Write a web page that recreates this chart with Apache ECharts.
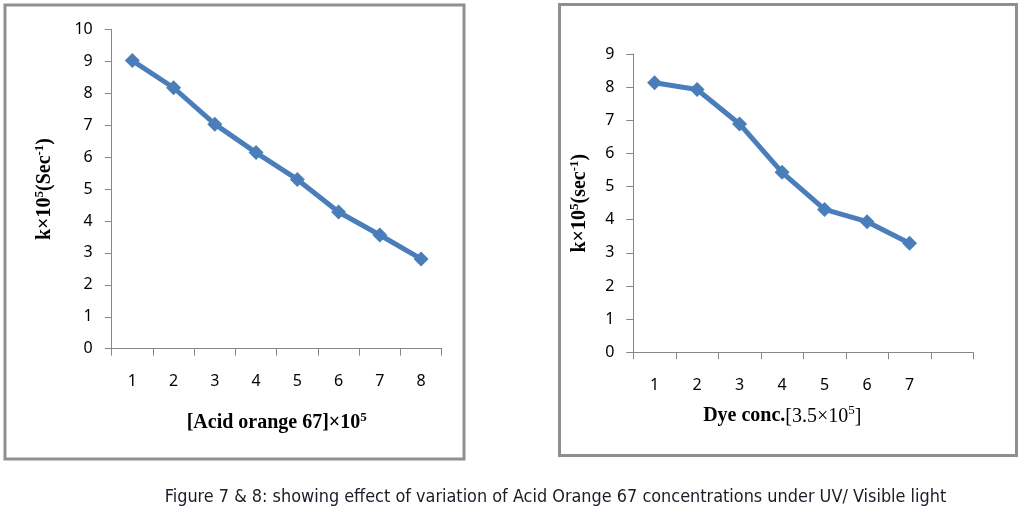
<!DOCTYPE html>
<html><head><meta charset="utf-8">
<script src="https://cdn.jsdelivr.net/npm/echarts@6/dist/echarts.min.js"></script>
<style>html,body{margin:0;padding:0;background:#fff}#c{width:1035px;height:514px}</style>
</head><body><div id="c"></div>
<script>
// Figure 7 (left)
const catsLeft = ['1','2','3','4','5','6','7','8'];
const kLeft = [9.02, 8.17, 7.03, 6.14, 5.30, 4.28, 3.56, 2.81];
// Figure 8 (right)
const catsRight = ['1','2','3','4','5','6','7',''];
const kRight = [8.13, 7.93, 6.89, 5.43, 4.31, 3.94, 3.29];
const yTicksLeft = {min: 0, max: 10, interval: 1};
const yTicksRight = {min: 0, max: 9, interval: 1};
const caption = 'Figure 7 & 8: showing effect of variation of Acid Orange 67 concentrations under UV/ Visible light';

const chart = echarts.init(document.getElementById('c'), null, {renderer: 'canvas'});
const serif = '"Liberation Serif","Times New Roman",serif';
const tickFont = {fontFamily: '"Noto Sans",sans-serif', fontSize: 16, color: '#000'};
const axisGray = '#868686';
const blue = '#4a7ebb';
const richTitle = {
  b: {fontFamily: serif, fontWeight: 'bold', fontSize: 20, color: '#000', lineHeight: 24},
  r: {fontFamily: serif, fontWeight: 'normal', fontSize: 20, color: '#000', lineHeight: 24},
  sb: {fontFamily: serif, fontWeight: 'bold', fontSize: 13, color: '#000', verticalAlign: 'top', lineHeight: 14},
  sr: {fontFamily: serif, fontWeight: 'normal', fontSize: 13, color: '#000', verticalAlign: 'top', lineHeight: 14}
};

// fit caption font to its width in the figure
const capFamily = '"DejaVu Sans Condensed","Liberation Sans Narrow",sans-serif';
const mc = document.createElement('canvas').getContext('2d');
mc.font = '15px ' + capFamily;
const capSize = Math.max(12, Math.min(19, 15 * 781 / mc.measureText(caption).width));

function xAxisCfg(grid, cats, nameStr, gap, pad) {
  return {
    type: 'category', gridIndex: grid, data: cats, boundaryGap: true,
    axisLine: {lineStyle: {color: axisGray, width: 1}},
    axisTick: {show: true, length: 7, lineStyle: {color: axisGray}},
    axisLabel: Object.assign({margin: 25}, tickFont),
    name: nameStr, nameLocation: 'middle', nameGap: gap,
    nameTextStyle: {rich: richTitle, padding: pad}
  };
}
function yAxisCfg(grid, ticks, nameStr, gap) {
  return {
    type: 'value', gridIndex: grid, min: ticks.min, max: ticks.max, interval: ticks.interval,
    axisLine: {show: true, lineStyle: {color: axisGray, width: 1}},
    axisTick: {show: true, length: 7, lineStyle: {color: axisGray}},
    splitLine: {show: false},
    axisLabel: Object.assign({margin: 19}, tickFont),
    name: nameStr, nameLocation: 'middle', nameRotate: 90, nameGap: gap,
    nameTextStyle: {rich: richTitle}
  };
}

chart.setOption({
  animation: false,
  backgroundColor: '#fff',
  grid: [
    {left: 111.7, top: 29.3, width: 330, height: 319.4},
    {left: 633.3, top: 54, width: 340, height: 298.3}
  ],
  xAxis: [
    xAxisCfg(0, catsLeft, '{b|[Acid orange 67]×10}{sb|5}', 62, [0, 0, 0, 0]),
    xAxisCfg(1, catsRight, '{b|Dye conc.}{r|[3.5×10}{sr|5}{r|]}', 52, [0, 42, 0, 0])
  ],
  yAxis: [
    yAxisCfg(0, yTicksLeft, '{b|k×10}{sb|5}{b|(Sec}{sb|-1}{b|)}', 55),
    yAxisCfg(1, yTicksRight, '{b|k×10}{sb|5}{b|(sec}{sb|-1}{b|)}', 41)
  ],
  series: [
    {type: 'line', xAxisIndex: 0, yAxisIndex: 0, data: kLeft, symbol: 'diamond', symbolSize: 15,
     lineStyle: {color: blue, width: 5}, itemStyle: {color: blue}},
    {type: 'line', xAxisIndex: 1, yAxisIndex: 1, data: kRight, symbol: 'diamond', symbolSize: 15,
     lineStyle: {color: blue, width: 5}, itemStyle: {color: blue}}
  ],
  graphic: [
    {type: 'rect', shape: {x: 5, y: 5, width: 459, height: 454}, style: {fill: 'none', stroke: '#8f8f8f', lineWidth: 3}, silent: true},
    {type: 'rect', shape: {x: 559.5, y: 4.5, width: 457, height: 451}, style: {fill: 'none', stroke: '#8f8f8f', lineWidth: 3}, silent: true},
    {type: 'text', x: 555.5, y: 497, style: {text: caption, align: 'center', verticalAlign: 'middle',
      font: capSize.toFixed(1) + 'px ' + capFamily, fill: '#1c1c28'}}
  ]
});
</script>
</body></html>
